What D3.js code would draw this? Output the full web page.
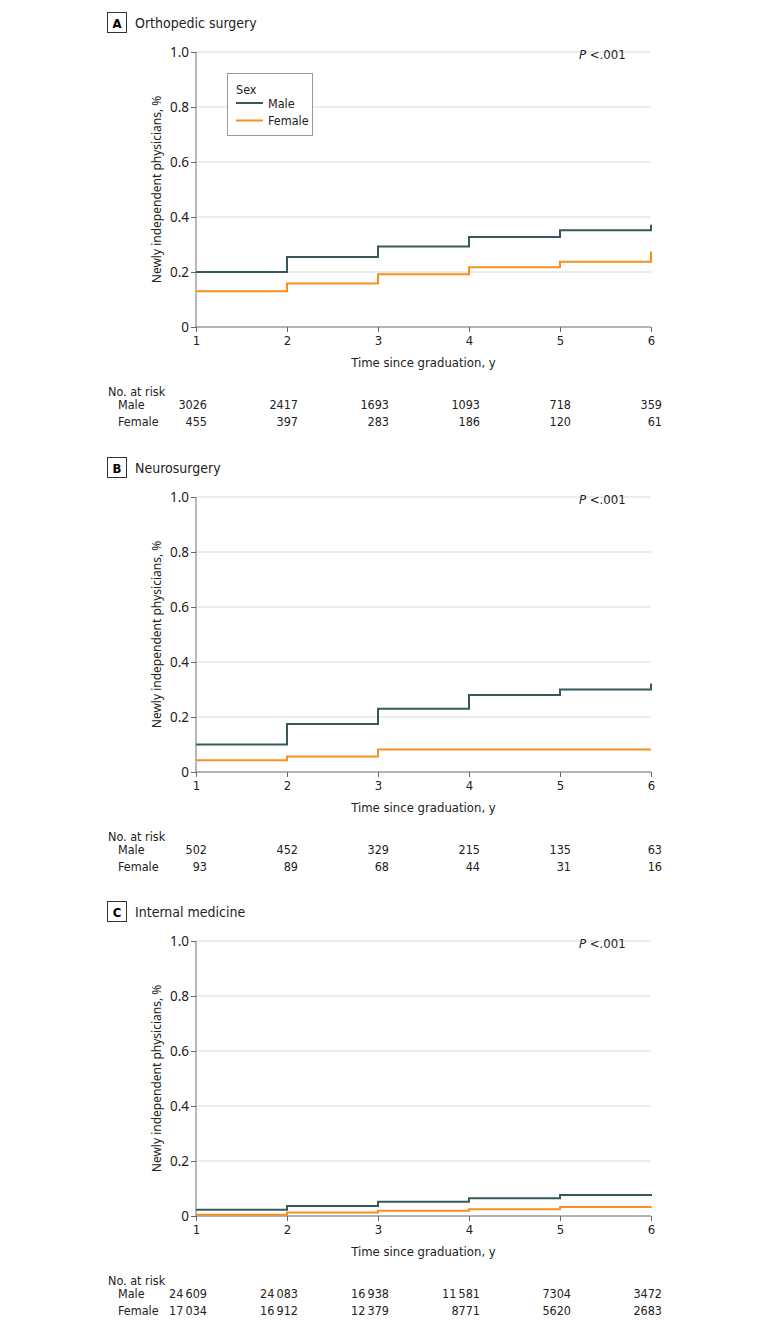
<!DOCTYPE html>
<html><head><meta charset="utf-8">
<script src="https://cdn.jsdelivr.net/npm/d3@7"></script>
<style>body{margin:0;background:#fff}</style>
</head><body>
<script>
const years = [1, 2, 3, 4, 5, 6];
const yTicks = [0, 0.2, 0.4, 0.6, 0.8, 1.0];
const panelLetters = ["A", "B", "C"];
const panelTitles = ["Orthopedic surgery", "Neurosurgery", "Internal medicine"];
const orthoMale = [0.200, 0.255, 0.293, 0.327, 0.352, 0.372];
const orthoFemale = [0.130, 0.158, 0.192, 0.217, 0.237, 0.275];
const neuroMale = [0.100, 0.175, 0.230, 0.280, 0.300, 0.322];
const neuroFemale = [0.043, 0.056, 0.082, 0.082, 0.082, 0.082];
const imMale = [0.023, 0.036, 0.052, 0.065, 0.076, 0.080];
const imFemale = [0.005, 0.013, 0.019, 0.025, 0.033, 0.034];
const orthoRiskMale = ["3026", "2417", "1693", "1093", "718", "359"];
const orthoRiskFemale = ["455", "397", "283", "186", "120", "61"];
const neuroRiskMale = ["502", "452", "329", "215", "135", "63"];
const neuroRiskFemale = ["93", "89", "68", "44", "31", "16"];
const imRiskMale = ["24\u2009609", "24\u2009083", "16\u2009938", "11\u2009581", "7304", "3472"];
const imRiskFemale = ["17\u2009034", "16\u2009912", "12\u2009379", "8771", "5620", "2683"];
const seriesNames = ["Male", "Female"];

const panels = [
  {male: orthoMale, female: orthoFemale, rm: orthoRiskMale, rf: orthoRiskFemale, legend: true},
  {male: neuroMale, female: neuroFemale, rm: neuroRiskMale, rf: neuroRiskFemale, legend: false},
  {male: imMale, female: imFemale, rm: imRiskMale, rf: imRiskFemale, legend: false}
];
const colors = {Male: "#365a5b", Female: "#f7901e"};
const condensed = "'DejaVu Sans Condensed', 'Liberation Sans Narrow', 'DejaVu Sans', sans-serif";
const sans = "'Noto Sans', 'Open Sans', sans-serif";

const svg = d3.select("body").append("svg").attr("width", 780).attr("height", 1328);
const x = d3.scaleLinear().domain([1, 6]).range([196, 651]);
const y = d3.scaleLinear().domain([0, 1]).range([327, 52]);
const offsets = [0, 445, 889];

panels.forEach((p, i) => {
  const g = svg.append("g").attr("transform", `translate(0,${offsets[i]})`);
  // panel label
  g.append("rect").attr("x", 107.5).attr("y", 12.5).attr("width", 19).attr("height", 20)
    .attr("fill", "none").attr("stroke", "#333").attr("stroke-width", 1);
  g.append("text").attr("x", 117).attr("y", 27.5).attr("text-anchor", "middle")
    .attr("font-family", condensed).attr("font-weight", "bold").attr("font-size", 13).text(panelLetters[i]);
  g.append("text").attr("x", 135).attr("y", 27.5)
    .attr("font-family", condensed).attr("font-size", 14).attr("fill", "#222").text(panelTitles[i]);

  // grid
  g.selectAll(".grid").data(yTicks.filter(t => t > 0)).join("line")
    .attr("x1", x(1)).attr("x2", x(6)).attr("y1", d => y(d)).attr("y2", d => y(d))
    .attr("stroke", "#d9d9d9").attr("stroke-width", 1);

  // y axis
  const ya = g.append("g").attr("transform", `translate(${x(1)},0)`)
    .call(d3.axisLeft(y).tickValues(yTicks).tickFormat(d => d === 0 ? "0" : d3.format(".1f")(d)).tickSize(5).tickPadding(2));
  ya.select(".domain").attr("stroke", "#888").attr("stroke-width", 1.2).attr("d", `M-0,${y(1)}V${y(0)}`);
  ya.selectAll(".tick line").attr("stroke", "#666");
  ya.selectAll("text").attr("font-family", sans).attr("font-size", 13.5).attr("fill", "#222");

  // x axis
  const xa = g.append("g").attr("transform", `translate(0,${y(0)})`)
    .call(d3.axisBottom(x).tickValues(years).tickFormat(d3.format("d")).tickSize(5).tickPadding(4));
  xa.select(".domain").attr("stroke", "#666").attr("d", `M${x(1)},0H${x(6)}`);
  xa.selectAll(".tick line").attr("stroke", "#666");
  xa.selectAll("text").attr("font-family", condensed).attr("font-size", 13).attr("fill", "#222");

  g.append("text").attr("x", (x(1) + x(6)) / 2).attr("y", 367).attr("text-anchor", "middle")
    .attr("font-family", condensed).attr("font-size", 13).attr("fill", "#222").text("Time since graduation, y");

  g.append("text").attr("transform", `translate(161,${(y(0) + y(1)) / 2}) rotate(-90)`)
    .attr("text-anchor", "middle").attr("font-family", sans).attr("font-size", 12).attr("fill", "#222")
    .text("Newly independent physicians, %");

  // P value
  const pt = g.append("text").attr("x", 579).attr("y", 58.5)
    .attr("font-family", condensed).attr("font-size", 13).attr("fill", "#222");
  pt.append("tspan").attr("font-style", "italic").text("P");
  pt.append("tspan").text(" <.001");

  // lines
  const line = d3.line().x((d, j) => x(years[j])).y(d => y(d)).curve(d3.curveStepAfter);
  [["Male", p.male], ["Female", p.female]].forEach(([name, vals]) => {
    g.append("path").datum(vals).attr("d", line).attr("fill", "none")
      .attr("stroke", colors[name]).attr("stroke-width", 2);
  });

  // legend
  if (p.legend) {
    const lg = g.append("g");
    lg.append("rect").attr("x", 227.5).attr("y", 73.5).attr("width", 85).attr("height", 62)
      .attr("fill", "#fff").attr("stroke", "#999");
    lg.append("text").attr("x", 236).attr("y", 94).attr("font-family", condensed).attr("font-size", 12.5)
      .attr("fill", "#222").text("Sex");
    seriesNames.forEach((n, k) => {
      const yy = 103 + k * 17.5;
      lg.append("line").attr("x1", 236).attr("x2", 263).attr("y1", yy).attr("y2", yy)
        .attr("stroke", colors[n]).attr("stroke-width", 2);
      lg.append("text").attr("x", 268).attr("y", yy + 4.5).attr("font-family", condensed).attr("font-size", 12.5)
        .attr("fill", "#222").text(n);
    });
  }

  // risk table
  g.append("text").attr("x", 108).attr("y", 395.5).attr("font-family", condensed).attr("font-size", 12.5)
    .attr("fill", "#222").text("No. at risk");
  [["Male", p.rm, 408.5], ["Female", p.rf, 425.5]].forEach(([n, vals, yy]) => {
    g.append("text").attr("x", 118).attr("y", yy).attr("font-family", condensed).attr("font-size", 12.5)
      .attr("fill", "#222").text(n);
    g.selectAll(null).data(vals).join("text")
      .attr("x", (d, j) => x(years[j]) + 11).attr("y", yy).attr("text-anchor", "end")
      .attr("font-family", condensed).attr("font-size", 12.5).attr("fill", "#222").text(d => d);
  });
});
</script>
</body></html>
